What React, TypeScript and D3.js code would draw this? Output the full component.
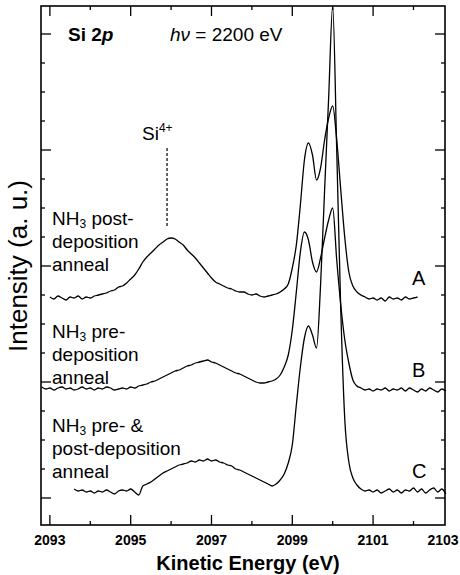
import React from 'react';
import * as d3 from 'd3';

// Kinetic-energy sampling grid of the Si 2p scans (0.1 eV steps)
const energyGrid: number[] = d3.range(20928, 21029).map((d) => d / 10);

// Intensity (arbitrary units, already vertically offset for display)
// A: NH3 post-deposition anneal, starting at 2093.0 eV
const startA = 2093.0;
const countsA = [
  2010, 1990, 2020, 2000, 1980, 2010, 2000, 2020, 1990, 2010,
  2000, 2020, 2030, 2040, 2050, 2070, 2080, 2110, 2120, 2150,
  2190, 2230, 2290, 2360, 2410, 2450, 2490, 2530, 2560, 2590,
  2600, 2590, 2560, 2530, 2480, 2440, 2400, 2350, 2300, 2250,
  2200, 2160, 2140, 2120, 2100, 2090, 2070, 2060, 2060, 2040,
  2030, 2040, 2020, 2010, 2020, 2030, 2040, 2060, 2090, 2140,
  2300, 2530, 2930, 3380, 3550, 3430, 3180, 3300, 3580, 3800,
  3920, 3580, 3080, 2600, 2260, 2120, 2060, 2030, 2010, 1990,
  2000, 1980, 2000, 1970, 2010, 1990, 2000, 1980, 2010, 1990,
  2000, 2010,
];

// B: NH3 pre-deposition anneal, starting at 2092.8 eV
const startB = 2092.8;
const countsB = [
  1110, 1090, 1100, 1080, 1100, 1110, 1090, 1100, 1080, 1090,
  1110, 1090, 1100, 1080, 1100, 1090, 1110, 1100, 1080, 1090,
  1100, 1090, 1110, 1100, 1120, 1130, 1140, 1160, 1170, 1190,
  1210, 1230, 1250, 1270, 1280, 1300, 1320, 1330, 1350, 1360,
  1370, 1380, 1360, 1350, 1330, 1310, 1290, 1270, 1250, 1240,
  1220, 1200, 1180, 1160, 1150, 1150, 1160, 1170, 1190, 1230,
  1310, 1430, 1680, 2060, 2460, 2660, 2580, 2360, 2260, 2400,
  2600, 2780, 2900, 2380, 1930, 1580, 1350, 1180, 1120, 1100,
  1080, 1090, 1070, 1090, 1080, 1100, 1070, 1090, 1080, 1100,
  1070, 1100, 1080, 1060, 1090, 1070, 1100, 1080, 1060, 1090,
  1070,
];

// C: NH3 pre- & post-deposition anneal, starting at 2093.6 eV
const startC = 2093.6;
const countsC = [
  90, 70, 80, 60, 70, 50, 70, 60, 80, 60,
  40, 70, 80, 70, 90, 60, 30, 120, 140, 160,
  190, 220, 250, 270, 290, 310, 330, 340, 350, 370,
  360, 380, 370, 390, 370, 380, 360, 350, 330, 320,
  290, 280, 260, 240, 220, 200, 180, 160, 140, 120,
  140, 180, 240, 350, 530, 930, 1310, 1600, 1720, 1630,
  1500, 2130, 3080, 4000, 4920, 3480, 1880, 780, 360, 200,
  130, 90, 70, 80, 60, 80, 50, 70, 90, 60,
  80, 50, 80, 70, 100, 60, 90, 50, 80, 100,
  60, 90, 40,
];

const traceLetters = ['A', 'B', 'C'];
const xTickLabels = [2093, 2095, 2097, 2099, 2101, 2103];
const xTicks = [2093, 2094, 2095, 2096, 2097, 2098, 2099, 2100, 2101, 2102];
const yTicks: number[] = d3.range(0, 4641, 290);
const si4Energy = 2095.9;

const W = 460;
const H = 575;
const left = 41;
const right = 445;
const top = 6;
const bottom = 525;

const FONT = "'Liberation Sans', Arial, Helvetica, sans-serif";

function toPoints(start: number, counts: number[]): [number, number][] {
  const i0 = energyGrid.findIndex((e) => Math.abs(e - start) < 1e-6);
  return counts.map((c, i) => [energyGrid[i0 + i], c]);
}

// One block of sample-description text; the first line carries NH3
function SampleLabel({ x0, y0, lines }: { x0: number; y0: number; lines: string[] }) {
  return (
    <g fontSize={19} fontFamily={FONT} fill="#000">
      <text x={x0} y={y0}>
        NH<tspan fontSize={12} dy={3}>3</tspan>
        <tspan dy={-3}>{lines[0]}</tspan>
      </text>
      {lines.slice(1).map((l, i) => (
        <text key={i} x={x0} y={y0 + 23 * (i + 1)}>
          {l}
        </text>
      ))}
    </g>
  );
}

export default function App() {
  const x = d3.scaleLinear().domain([2092.78, 2102.78]).range([left, right]);
  const y = d3.scaleLinear().domain([-270, 4920]).range([bottom, top]);

  const line = d3
    .line<[number, number]>()
    .x((d) => x(d[0]))
    .y((d) => y(d[1]))
    .curve(d3.curveMonotoneX);

  const traces = [
    toPoints(startA, countsA),
    toPoints(startB, countsB),
    toPoints(startC, countsC),
  ];

  const labelYs = [285, 377, 478];

  return (
    <svg
      width={W}
      height={H}
      style={{ position: 'absolute', left: 0, top: 0, background: '#fff' }}
    >
      <rect x={0} y={0} width={W} height={H} fill="#fff" />

      {/* spectra */}
      {traces.map((pts, i) => (
        <path
          key={i}
          d={line(pts) || ''}
          fill="none"
          stroke="#000"
          strokeWidth={1.3}
          strokeLinejoin="round"
        />
      ))}

      {/* x ticks, bottom and top, pointing inward */}
      {xTicks.map((t) => {
        const len = t % 2 === 1 ? 10 : 4;
        return (
          <g key={t} stroke="#000" strokeWidth={1.3}>
            <line x1={x(t)} x2={x(t)} y1={bottom} y2={bottom - len} />
            <line x1={x(t)} x2={x(t)} y1={top} y2={top + len} />
          </g>
        );
      })}

      {/* y ticks, left and right */}
      {yTicks.map((t, i) => {
        const len = i % 4 === 0 ? 10 : 4;
        return (
          <g key={t} stroke="#000" strokeWidth={1.3}>
            <line x1={left} x2={left + len} y1={y(t)} y2={y(t)} />
            <line x1={right} x2={right - len} y1={y(t)} y2={y(t)} />
          </g>
        );
      })}

      {/* frame */}
      <rect
        x={left}
        y={top}
        width={right - left}
        height={bottom - top}
        fill="none"
        stroke="#000"
        strokeWidth={1.6}
      />

      {/* x tick labels */}
      {xTickLabels.map((t) => (
        <text
          key={t}
          x={Math.min(x(t), right - 2)}
          y={545}
          textAnchor="middle"
          fontSize={14}
          fontWeight="bold"
          fontFamily={FONT}
          fill="#000"
        >
          {t}
        </text>
      ))}

      <text
        x={248}
        y={570}
        textAnchor="middle"
        fontSize={20}
        fontWeight="bold"
        fontFamily={FONT}
        fill="#000"
      >
        Kinetic Energy (eV)
      </text>

      <text
        transform={`translate(27, 266) rotate(-90)`}
        textAnchor="middle"
        fontSize={26}
        fontFamily={FONT}
        fill="#000"
      >
        Intensity (a. u.)
      </text>

      {/* header */}
      <text x={68} y={41} fontSize={19} fontWeight="bold" fontFamily={FONT} fill="#000">
        Si 2<tspan fontStyle="italic">p</tspan>
      </text>
      <text x={170} y={41} fontSize={19} fontFamily={FONT} fill="#000">
        <tspan fontStyle="italic">hν</tspan> = 2200 eV
      </text>

      {/* Si4+ marker */}
      <text x={142} y={140} fontSize={19} fontFamily={FONT} fill="#000">
        Si<tspan fontSize={12} dy={-8}>4+</tspan>
      </text>
      <line
        x1={x(si4Energy)}
        x2={x(si4Energy)}
        y1={148}
        y2={228}
        stroke="#000"
        strokeWidth={1.2}
        strokeDasharray="3,2"
      />

      {/* sample labels */}
      <SampleLabel x0={52} y0={225} lines={[' post-', 'deposition', 'anneal']} />
      <SampleLabel x0={52} y0={338} lines={[' pre-', 'deposition', 'anneal']} />
      <SampleLabel x0={52} y0={432} lines={[' pre- &', 'post-deposition', 'anneal']} />

      {traceLetters.map((l, i) => (
        <text
          key={l}
          x={412}
          y={labelYs[i]}
          fontSize={20}
          fontFamily={FONT}
          fill="#000"
        >
          {l}
        </text>
      ))}
    </svg>
  );
}
